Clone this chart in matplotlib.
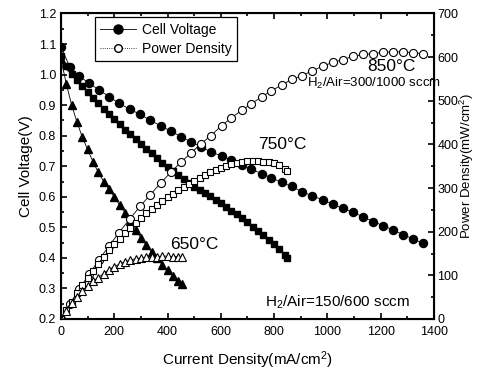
import matplotlib
matplotlib.use("Agg")
import matplotlib.pyplot as plt
from matplotlib.ticker import MultipleLocator
from matplotlib.lines import Line2D

plt.rcParams['font.family'] = ['Liberation Sans', 'DejaVu Sans']
plt.rcParams['mathtext.fontset'] = 'custom'
plt.rcParams['mathtext.rm'] = 'Liberation Sans'
plt.rcParams['mathtext.it'] = 'Liberation Sans:italic'

# 850 C, H2/Air = 300/1000 sccm
i_850 = [0, 34, 69, 106, 143, 180, 218, 259, 297, 334, 375, 412, 450, 487, 525,
         562, 603, 640, 678, 715, 753, 790, 828, 866, 903, 944, 982, 1020, 1057,
         1097, 1135, 1172, 1210, 1247, 1285, 1323, 1357]
v_850 = [1.09, 1.024, 0.995, 0.971, 0.95, 0.928, 0.906, 0.886, 0.87, 0.851, 0.832,
         0.815, 0.797, 0.78, 0.764, 0.747, 0.734, 0.72, 0.705, 0.69, 0.676, 0.662,
         0.647, 0.634, 0.617, 0.603, 0.59, 0.576, 0.562, 0.549, 0.534, 0.519,
         0.505, 0.491, 0.476, 0.461, 0.448]
p_850 = [0, 35, 69, 103, 136, 167, 198, 230, 258, 284, 312, 336, 359, 380, 401,
         420, 443, 461, 478, 493, 509, 523, 536, 549, 557, 569, 579, 588, 594,
         602, 606, 608, 611, 612, 612, 610, 608]

# 750 C, H2/Air = 150/600 sccm
i_750 = [0, 20, 40, 60, 80, 100, 120, 140, 160, 180, 200, 220, 240, 260, 280,
         300, 320, 340, 360, 380, 400, 420, 440, 460, 480, 500, 520, 540, 560,
         580, 600, 620, 640, 660, 680, 700, 720, 740, 760, 780, 800, 820, 840, 850]
v_750 = [1.06, 1.028, 1.002, 0.981, 0.961, 0.942, 0.924, 0.906, 0.888, 0.871,
         0.854, 0.837, 0.82, 0.804, 0.788, 0.772, 0.757, 0.742, 0.727, 0.712,
         0.698, 0.684, 0.67, 0.657, 0.644, 0.632, 0.623, 0.613, 0.602, 0.59,
         0.578, 0.566, 0.554, 0.542, 0.529, 0.516, 0.502, 0.488, 0.474, 0.46,
         0.446, 0.43, 0.41, 0.398]
p_750 = [0, 21, 40, 59, 77, 94, 111, 127, 142, 157, 171, 184, 197, 209, 221,
         232, 242, 252, 262, 271, 279, 287, 295, 302, 309, 316, 324, 331, 337,
         342, 347, 351, 355, 358, 360, 361, 361, 361, 360, 359, 357, 353, 344, 338]

# 650 C, H2/Air = 150/600 sccm
i_650 = [0, 20, 40, 60, 80, 100, 120, 140, 160, 180, 200, 220, 240, 260, 280,
         300, 320, 340, 360, 380, 400, 420, 440, 455]
v_650 = [1.05, 0.97, 0.9, 0.845, 0.795, 0.755, 0.715, 0.68, 0.65, 0.625, 0.6,
         0.573, 0.548, 0.52, 0.492, 0.466, 0.442, 0.419, 0.398, 0.378, 0.359,
         0.341, 0.325, 0.314]
p_650 = [0, 19, 36, 51, 64, 76, 86, 95, 104, 113, 120, 126, 131, 135, 138,
         140, 141, 142, 143, 144, 144, 143, 143, 143]

fig = plt.figure(figsize=(4.79, 3.71), dpi=100)
ax = fig.add_axes([0.1273, 0.1402, 0.7787, 0.8235])
ax2 = ax.twinx()

line = dict(color='black', lw=0.6)
ax.plot(i_850, v_850, marker='o', ms=5.8, mfc='black', mec='black', **line)
ax.plot(i_750, v_750, marker='s', ms=4.8, mfc='black', mec='black', **line)
ax.plot(i_650, v_650, marker='^', ms=5.8, mfc='black', mec='black', **line)

ax2.plot(i_850, p_850, marker='o', ms=5.8, mfc='white', mec='black', mew=0.8, **line)
ax2.plot(i_750, p_750, marker='s', ms=4.8, mfc='white', mec='black', mew=0.8, **line)
ax2.plot(i_650, p_650, marker='^', ms=5.8, mfc='white', mec='black', mew=0.8, **line)

ax.set_xlim(0, 1400)
ax.set_ylim(0.2, 1.2)
ax2.set_ylim(0, 700)

ax.xaxis.set_major_locator(MultipleLocator(200))
ax.xaxis.set_minor_locator(MultipleLocator(100))
ax.yaxis.set_major_locator(MultipleLocator(0.1))
ax.yaxis.set_minor_locator(MultipleLocator(0.05))
ax2.yaxis.set_major_locator(MultipleLocator(100))
ax2.yaxis.set_minor_locator(MultipleLocator(50))

ax.tick_params(which='both', direction='in', top=True, labelsize=9, width=1.2)
ax.tick_params(which='major', length=4)
ax.tick_params(which='minor', length=2)
ax.tick_params(axis='x', pad=5)
ax2.tick_params(which='both', direction='in', labelsize=9, width=1.2, pad=2.5)
ax2.tick_params(which='major', length=4)
ax2.tick_params(which='minor', length=2)
for sp in ax.spines.values():
    sp.set_linewidth(1.5)

ax.set_xlabel("Current Density(mA/cm$^2$)", fontsize=11, labelpad=8)
ax.set_ylabel("Cell Voltage(V)", fontsize=11, labelpad=4)
ax2.set_ylabel("Power Density(mW/cm$^2$)", fontsize=9.5)
ax2.yaxis.set_label_coords(1.064, 0.5)

ax.text(1150, 1.028, "850°C", fontsize=12.5, va='center')
ax.text(923, 0.972, "H$_2$/Air=300/1000 sccm", fontsize=9.5, va='center')
ax.text(740, 0.772, "750°C", fontsize=12.5, va='center')
ax.text(409, 0.445, "650°C", fontsize=12.5, va='center')
ax.text(766, 0.256, "H$_2$/Air=150/600 sccm", fontsize=11, va='center')

handles = [
    Line2D([], [], color='black', lw=0.6, marker='o', ms=6.5, mfc='black', mec='black'),
    Line2D([], [], color='black', lw=0.6, ls=':', marker='o', ms=5.5, mfc='white', mec='black'),
]
leg = ax.legend(handles, ["Cell Voltage", "Power Density"], loc='upper left',
                bbox_to_anchor=(0.09, 0.988), fontsize=10, frameon=True,
                fancybox=False, edgecolor='black', framealpha=1,
                handlelength=2.6, borderpad=0.4, labelspacing=0.35,
                handletextpad=0.4, borderaxespad=0)
leg.get_frame().set_linewidth(0.9)

fig.savefig("out.png", dpi=100)
